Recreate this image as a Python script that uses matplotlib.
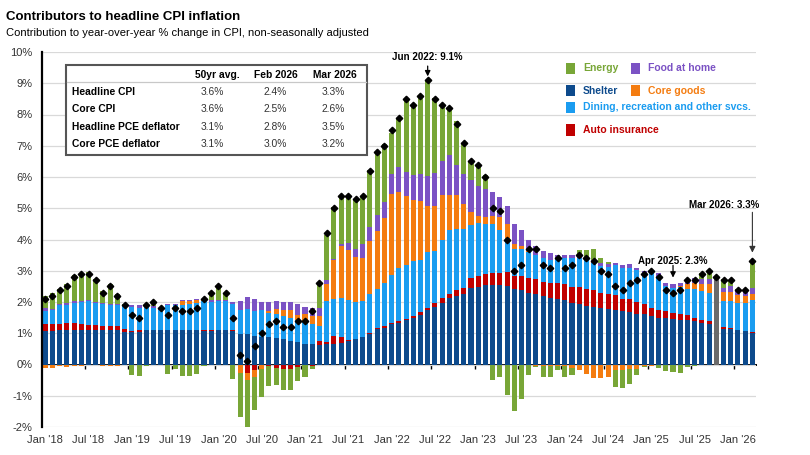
import numpy as np
import pandas as pd
import matplotlib
matplotlib.use('Agg')
import matplotlib.pyplot as plt
from matplotlib.patches import Rectangle

plt.rcParams['font.family'] = ['Liberation Sans', 'DejaVu Sans']

# monthly, Jan 2018 .. Mar 2026 (percentage point contributions)
months = pd.date_range('2018-01-01', '2026-03-01', freq='MS')
nan = np.nan

shelter = [1.07, 1.08, 1.09, 1.09, 1.10, 1.10, 1.11, 1.10, 1.09, 1.09, 1.09, 1.05,
           1.03, 1.03, 1.09, 1.09, 1.09, 1.10, 1.10, 1.09, 1.09, 1.10, 1.08, 1.08,
           1.09, 1.09, 1.07, 0.99, 0.97, 0.91, 0.88, 0.88, 0.84, 0.81, 0.75, 0.73,
           0.67, 0.65, 0.62, 0.65, 0.67, 0.70, 0.75, 0.81, 0.88, 0.97, 1.13, 1.18,
           1.29, 1.34, 1.42, 1.50, 1.60, 1.74, 1.84, 1.98, 2.12, 2.20, 2.27, 2.44,
           2.48, 2.55, 2.55, 2.55, 2.52, 2.41, 2.38, 2.30, 2.25, 2.20, 2.14, 2.11,
           2.06, 1.98, 1.93, 1.87, 1.84, 1.80, 1.77, 1.74, 1.71, 1.69, 1.61, 1.61,
           1.55, 1.50, 1.50, 1.47, 1.43, 1.43, 1.39, 1.34, 1.29, nan, 1.15, 1.13,
           1.10, 1.07, 1.02]
auto_ins = [0.22, 0.22, 0.21, 0.23, 0.23, 0.20, 0.15, 0.15, 0.14, 0.14, 0.14, 0.09,
            0.05, 0.07, 0.01, 0.01, 0.01, 0.01, 0.01, 0.01, 0.01, 0.01, 0.01, 0.01,
            0.01, 0.01, 0.03, -0.02, -0.28, -0.18, -0.03, -0.05, -0.12, -0.15, -0.15, -0.08,
            0.00, -0.05, 0.13, 0.08, 0.25, 0.18, 0.02, 0.00, 0.00, 0.05, 0.05, 0.05,
            0.04, 0.05, 0.05, 0.05, 0.07, 0.08, 0.12, 0.15, 0.15, 0.18, 0.19, 0.32,
            0.35, 0.34, 0.39, 0.39, 0.43, 0.43, 0.45, 0.48, 0.50, 0.44, 0.48, 0.49,
            0.51, 0.51, 0.56, 0.54, 0.54, 0.50, 0.48, 0.49, 0.38, 0.40, 0.39, 0.32,
            0.27, 0.26, 0.20, 0.19, 0.18, 0.16, 0.11, 0.09, 0.10, nan, 0.06, 0.05,
            0.02, 0.01, 0.01]
dining = [0.42, 0.43, 0.59, 0.59, 0.64, 0.69, 0.78, 0.71, 0.70, 0.67, 0.67, 0.72,
          0.75, 0.70, 0.74, 0.72, 0.64, 0.80, 0.79, 0.80, 0.85, 0.87, 0.94, 0.91,
          0.92, 0.92, 0.83, 0.74, 0.80, 0.80, 0.86, 0.78, 0.77, 0.74, 0.75, 0.69,
          0.70, 0.64, 0.48, 1.31, 1.18, 1.26, 1.28, 1.18, 1.15, 1.25, 1.23, 1.39,
          1.55, 1.69, 1.72, 1.76, 1.66, 1.79, 1.68, 1.84, 2.03, 1.96, 1.87, 1.71,
          1.71, 1.60, 1.55, 1.36, 1.10, 0.85, 0.87, 0.82, 0.76, 0.76, 0.72, 0.80,
          0.84, 0.91, 0.91, 0.96, 0.88, 0.86, 0.87, 0.94, 1.01, 1.01, 1.03, 1.01,
          1.12, 1.08, 0.82, 0.80, 0.86, 0.82, 0.91, 0.93, 0.91, nan, 0.83, 0.86,
          0.86, 0.90, 1.03]
core_goods = [-0.10, -0.10, -0.05, -0.08, -0.05, -0.04, -0.03, -0.03, -0.05, -0.05, -0.05, -0.01,
              0.00, 0.00, 0.00, 0.00, 0.02, -0.02, 0.00, 0.12, 0.08, 0.07, 0.03, -0.02,
              -0.03, -0.02, -0.03, -0.25, -0.22, -0.21, -0.12, 0.05, 0.16, 0.19, 0.24, 0.17,
              0.24, 0.26, 0.32, 0.55, 1.23, 1.66, 1.62, 1.46, 1.39, 1.69, 1.87, 2.08,
              2.59, 2.43, 2.21, 1.94, 1.90, 1.46, 1.44, 1.47, 1.13, 1.07, 0.80, 0.40,
              0.21, 0.24, 0.27, 0.41, 0.45, 0.18, 0.10, 0.02, -0.04, -0.04, -0.05, -0.06,
              -0.05, -0.10, -0.16, -0.31, -0.43, -0.42, -0.40, -0.18, -0.17, -0.14, -0.14, -0.05,
              -0.04, -0.03, 0.00, 0.00, 0.05, 0.16, 0.21, 0.23, 0.27, nan, 0.27, 0.27,
              0.25, 0.21, 0.21]
food_home = [0.09, 0.05, 0.05, 0.06, 0.06, 0.04, 0.04, 0.04, 0.05, 0.04, 0.04, 0.04,
             0.08, 0.10, 0.07, 0.05, 0.06, 0.03, 0.03, 0.06, 0.05, 0.05, 0.05, 0.05,
             0.05, 0.05, 0.08, 0.30, 0.40, 0.38, 0.27, 0.30, 0.26, 0.27, 0.27, 0.34,
             0.22, 0.25, 0.27, 0.10, 0.05, 0.07, 0.21, 0.25, 0.43, 0.43, 0.50, 0.51,
             0.64, 0.80, 0.75, 0.83, 0.88, 0.96, 1.04, 1.07, 1.28, 0.99, 0.96, 1.05,
             0.96, 0.89, 0.75, 0.64, 0.56, 0.62, 0.50, 0.38, 0.28, 0.24, 0.22, 0.11,
             0.10, 0.12, 0.10, 0.08, 0.10, 0.09, 0.10, 0.09, 0.09, 0.11, 0.07, 0.06,
             0.08, 0.10, 0.10, 0.11, 0.10, 0.16, 0.15, 0.15, 0.18, nan, 0.15, 0.19,
             0.13, 0.15, 0.19]
energy = [0.39, 0.51, 0.47, 0.60, 0.83, 0.88, 0.89, 0.73, 0.38, 0.63, 0.31, 0.03,
          -0.34, -0.37, -0.04, 0.14, -0.03, -0.27, -0.14, -0.36, -0.37, -0.30, -0.05, 0.24,
          0.45, 0.23, -0.43, -1.42, -1.50, -1.05, -0.89, -0.65, -0.53, -0.66, -0.68, -0.45,
          -0.41, -0.08, 0.80, 1.47, 1.66, 1.53, 1.50, 1.57, 1.55, 1.82, 2.04, 1.84,
          1.31, 1.58, 2.38, 2.19, 2.52, 3.03, 2.41, 1.76, 1.46, 1.39, 1.01, 0.56,
          0.69, 0.43, -0.51, -0.40, -0.96, -1.49, -1.10, -0.32, -0.05, -0.37, -0.35, -0.10,
          -0.35, -0.25, 0.16, 0.21, 0.33, 0.15, 0.07, -0.53, -0.59, -0.47, -0.21, -0.04,
          0.02, -0.07, -0.21, -0.25, -0.26, -0.08, -0.04, 0.18, 0.25, nan, 0.29, 0.20,
          0.05, 0.07, 0.80]
headline = [2.1, 2.2, 2.4, 2.5, 2.8, 2.9, 2.9, 2.7, 2.3, 2.5, 2.2, 1.9,
            1.6, 1.5, 1.9, 2.0, 1.8, 1.6, 1.8, 1.7, 1.7, 1.8, 2.1, 2.3,
            2.5, 2.3, 1.5, 0.3, 0.1, 0.6, 1.0, 1.3, 1.4, 1.2, 1.2, 1.4,
            1.4, 1.7, 2.6, 4.2, 5.0, 5.4, 5.4, 5.3, 5.4, 6.2, 6.8, 7.0,
            7.5, 7.9, 8.5, 8.3, 8.6, 9.1, 8.5, 8.3, 8.2, 7.7, 7.1, 6.5,
            6.4, 6.0, 5.0, 4.9, 4.0, 3.0, 3.2, 3.7, 3.7, 3.2, 3.1, 3.4,
            3.1, 3.2, 3.5, 3.4, 3.3, 3.0, 2.9, 2.5, 2.4, 2.6, 2.7, 2.9,
            3.0, 2.8, 2.4, 2.3, 2.4, 2.7, 2.7, 2.9, 3.0, 2.8, 2.7, 2.7,
            2.4, 2.4, 3.3]
# Oct 2025 was not published: shown as a gray estimate bar
gap_month = '2025-10'
gap_value = 2.8

names = ['Shelter', 'Auto insurance', 'Dining, recreation and other svcs.',
         'Core goods', 'Food at home', 'Energy']
colors = ['#0d4a8c', '#c00000', '#1a9cf0', '#f47c10', '#7b52c4', '#78a637']

table_cols = ['50yr avg.', 'Feb 2026', 'Mar 2026']
table_rows = ['Headline CPI', 'Core CPI', 'Headline PCE deflator', 'Core PCE deflator']
table_vals = [['3.6%', '2.4%', '3.3%'],
              ['3.6%', '2.5%', '2.6%'],
              ['3.1%', '2.8%', '3.5%'],
              ['3.1%', '3.0%', '3.2%']]

W, H = 810, 455
def fx(px):
    return px / W
def fy(py):
    return 1 - py / H

fig = plt.figure(figsize=(8.1, 4.55), dpi=100)
ax = fig.add_axes([fx(42), fy(427), fx(756) - fx(42), fy(52) - fy(427)])

x = np.arange(len(months))
pos_base = np.zeros(len(x))
neg_base = np.zeros(len(x))
for vals, c in zip([shelter, auto_ins, dining, core_goods, food_home, energy], colors):
    v = np.nan_to_num(np.array(vals, dtype=float))
    base = np.where(v >= 0, pos_base, neg_base)
    ax.bar(x, v, width=0.7, bottom=base, color=c, zorder=2, linewidth=0)
    pos_base += np.clip(v, 0, None)
    neg_base += np.clip(v, None, 0)

gi = list(months.strftime('%Y-%m')).index(gap_month)
ax.bar(x[gi], gap_value, width=0.7, color='#6b6b6b', zorder=2, linewidth=0)

ax.plot(x, headline, linestyle='none', marker='D', ms=3.3, color='black', zorder=4)

ax.set_xlim(-0.45, 98.5)
ax.set_ylim(-2, 10)
ax.set_yticks(range(-2, 11))
ax.set_yticklabels(['%d%%' % v for v in range(-2, 11)])
ax.yaxis.grid(True, color='#d9d9d9', lw=0.9, zorder=0)
ax.set_axisbelow(True)
for s in ['top', 'right', 'bottom']:
    ax.spines[s].set_visible(False)
ax.spines['left'].set_linewidth(1.6)
ax.tick_params(axis='y', length=0, pad=7, labelsize=8, labelcolor='#333333')

lab_idx = np.arange(0, len(months), 6)
ax.set_xticks(lab_idx)
ax.set_xticklabels([months[i].strftime("%b '%y") for i in lab_idx])
ax.tick_params(axis='x', length=0, pad=6, labelsize=8, labelcolor='#333333')

# zero line with half-year ticks between bars
zero = ax.secondary_xaxis(0, transform=ax.transData)
zero.set_xticks(np.arange(5.5, len(months), 6))
zero.tick_params(length=3, width=1, direction='out', labelbottom=False)
zero.spines['bottom'].set_linewidth(1.4)

# callouts
def callout(i, txt, ty, a0, a1, col='black'):
    ax.text(i, ty, txt, ha='center', va='center', fontsize=7, weight='bold')
    ax.annotate('', xy=(i, a1), xytext=(i, a0),
                arrowprops=dict(arrowstyle='-|>', color=col, lw=0.9, mutation_scale=8,
                                shrinkA=0, shrinkB=0), zorder=5)

callout(53, 'Jun 2022: 9.1%', 9.83, 9.55, 9.22)
callout(87, 'Apr 2025: 2.3%', 3.32, 3.17, 2.78)
ax.text(98.9, 5.11, 'Mar 2026: 3.3%', ha='right', va='center', fontsize=7, weight='bold')
ax.annotate('', xy=(98, 3.58), xytext=(98, 4.87),
            arrowprops=dict(arrowstyle='-|>', color='#333333', lw=0.8, mutation_scale=9,
                            shrinkA=0, shrinkB=0), zorder=5)

# titles
fig.text(fx(6), fy(17), 'Contributors to headline CPI inflation', fontsize=9.5,
         weight='bold', va='center', ha='left')
fig.text(fx(6), fy(33), 'Contribution to year-over-year % change in CPI, non-seasonally adjusted',
         fontsize=8, va='center', ha='left')

# summary table
fig.patches.append(Rectangle((fx(66), fy(155)), fx(367) - fx(66), fy(65) - fy(155),
                             transform=fig.transFigure, facecolor='white',
                             edgecolor='#555555', lw=1.5, zorder=3))
fig.add_artist(plt.Line2D([fx(67), fx(366)], [fy(82), fy(82)], color='#c8c8c8', lw=0.9,
                          transform=fig.transFigure, zorder=4))
head_x = [217, 275.5, 334.5]
val_x = [212, 275, 333]
row_y = [92.3, 109.3, 126.7, 144]
for cx, t in zip(head_x, table_cols):
    fig.text(fx(cx), fy(75), t, ha='center', va='center', fontsize=7.4, weight='bold', zorder=5)
for ry, rname, vals in zip(row_y, table_rows, table_vals):
    fig.text(fx(71.5), fy(ry), rname, ha='left', va='center', fontsize=7.4, weight='bold', zorder=5)
    for cx, v in zip(val_x, vals):
        fig.text(fx(cx), fy(ry), v, ha='center', va='center', fontsize=7.4,
                 color='#333333', zorder=5)

# legend, laid out as in the source
leg = [('Energy', 5, 566, 68.3), ('Food at home', 4, 631, 68.3),
       ('Shelter', 0, 566, 90.7), ('Core goods', 3, 631, 90.7),
       ('Dining, recreation and other svcs.', 2, 566, 107.3),
       ('Auto insurance', 1, 566, 130)]
for lab, k, lx, ly in leg:
    fig.patches.append(Rectangle((fx(lx), fy(ly + 5.5)), fx(9), 11 / H,
                                 transform=fig.transFigure, facecolor=colors[k],
                                 edgecolor='none', zorder=3))
    fig.text(fx(lx + 17), fy(ly), lab, color=colors[k], fontsize=7.5, weight='bold',
             ha='left', va='center')

plt.savefig('out.png', dpi=100)
